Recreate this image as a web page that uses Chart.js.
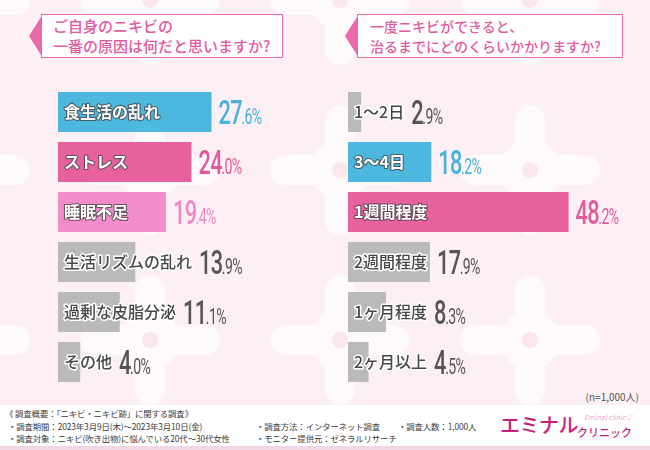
<!DOCTYPE html>
<html>
<head>
<meta charset="utf-8">
<script src="https://cdn.jsdelivr.net/npm/chart.js@4"></script>
<style>
  html, body { margin: 0; padding: 0; }
  body {
    width: 650px; height: 450px; position: relative; overflow: hidden;
    font-family: "Noto Sans CJK JP", "Noto Sans", sans-serif;
    background-color: #fcf0f4;
    background-image: url("data:image/svg+xml;utf8,<svg xmlns='http://www.w3.org/2000/svg' width='190' height='170'><g fill='white' opacity='0.6'><rect x='80' y='20' width='30' height='130' rx='15'/><rect x='25' y='70' width='140' height='30' rx='15'/><circle cx='95' cy='85' r='30'/></g><circle cx='95' cy='85' r='8' fill='%23fbe6ee'/></svg>");
    background-position: 55px 85px;
  }
  .qbox {
    position: absolute; top: 14px; height: 41px; box-sizing: content-box;
    background: #fff; border: 1.2px solid #e46aa9; color: #e25ba0;
    line-height: 20px; padding-top: 1px; font-weight: 500;
  }
  .arrow {
    position: absolute; top: 17px; width: 12px; height: 38px; background: #e86aa9;
    clip-path: polygon(100% 0, 0 50%, 100% 100%);
  }
  canvas { position: absolute; }
  .footer {
    position: absolute; left: 0; top: 405px; width: 650px; height: 41px;
    background: #fff; border-bottom: 4px solid #f3d6e5;
  }
  .ft { position: absolute; font-size: 8.4px; color: #3a3a3a; white-space: nowrap; line-height: 10px; letter-spacing: -0.1px; }
  .n { position: absolute; right: 11px; top: 389px; font-size: 10px; color: #555; }
</style>
</head>
<body>
<div class="arrow" style="left:29px"></div>
<div class="qbox" style="left:41px; width:229px; padding-left:11px; font-size:15px;">ご自身のニキビの<br>一番の原因は何だと思いますか?</div>
<div class="arrow" style="left:345px"></div>
<div class="qbox" style="left:357px; width:252px; padding-left:12px; font-size:14px;">一度ニキビができると、<br>治るまでにどのくらいかかりますか?</div>

<canvas id="leftChart" width="267" height="300" style="left:58px; top:87px;"></canvas>
<canvas id="rightChart" width="302" height="300" style="left:348px; top:87px;"></canvas>

<div class="n">(n=1,000人)</div>
<div class="footer"></div>
<div class="ft" style="left:5px; top:408px;">《 調査概要：「ニキビ・ニキビ跡」に関する調査》</div>
<div class="ft" style="left:8px; top:421px;">・調査期間：2023年3月9日(木)～2023年3月10日(金)</div>
<div class="ft" style="left:8px; top:433px;">・調査対象：ニキビ(吹き出物)に悩んでいる20代～30代女性</div>
<div class="ft" style="left:256px; top:421px;">・調査方法：インターネット調査</div>
<div class="ft" style="left:256px; top:433px;">・モニター提供元：ゼネラルリサーチ</div>
<div class="ft" style="left:398px; top:421px;">・調査人数：1,000人</div>
<div style="position:absolute; left:500px; top:410px; font-size:20px; color:#c81f78; font-weight:500; letter-spacing:-0.5px;">エミナル</div>
<div style="position:absolute; left:577px; top:424px; font-size:11px; color:#c81f78; font-weight:500;">クリニック</div>
<div style="position:absolute; left:584px; top:412px; font-size:7px; color:#f2a6cb; font-style:italic;">Eminal clinic♡</div>

<script>
// Q1: main cause of acne
const causeLabels = ['食生活の乱れ', 'ストレス', '睡眠不足', '生活リズムの乱れ', '過剰な皮脂分泌', 'その他'];
const causeValues = [27.6, 24.0, 19.4, 13.9, 11.1, 4.0];

// Q2: time until healed
const healLabels = ['1〜2日', '3〜4日', '1週間程度', '2週間程度', '1ヶ月程度', '2ヶ月以上'];
const healValues = [2.9, 18.2, 48.2, 17.9, 8.3, 4.5];

const BLUE = '#4db8de', PINK = '#e8619f', LPINK = '#f28ccb', GRAY = '#bababa';
const causeColors = [BLUE, PINK, LPINK, GRAY, GRAY, GRAY];
const healColors = [GRAY, BLUE, PINK, GRAY, GRAY, GRAY];
const textColor = { [BLUE]: '#48b2da', [PINK]: '#e3599b', [LPINK]: '#ef88c6', [GRAY]: '#555555' };

const barLabels = {
  id: 'barLabels',
  afterDatasetsDraw(chart) {
    const ctx = chart.ctx;
    const ds = chart.data.datasets[0];
    chart.getDatasetMeta(0).data.forEach((bar, i) => {
      const name = chart.data.labels[i];
      const color = ds.backgroundColor[i];
      const gray = color === GRAY;
      ctx.save();
      ctx.textBaseline = 'middle';
      ctx.lineJoin = 'round';
      ctx.font = (gray ? '500' : '700') + ' 16px "Noto Sans CJK JP"';
      const lx = bar.base + 6;
      ctx.lineWidth = gray ? 3 : 2.2;
      ctx.strokeStyle = gray ? '#ffffff' : 'rgba(70,70,70,0.8)';
      ctx.strokeText(name, lx, bar.y);
      ctx.fillStyle = gray ? '#474747' : '#ffffff';
      ctx.fillText(name, lx, bar.y);
      const labelEnd = lx + ctx.measureText(name).width;

      // value: big integer part, small decimals
      const parts = ds.data[i].toFixed(1).split('.');
      const vx = Math.max(bar.x, labelEnd) + 7;
      ctx.textBaseline = 'alphabetic';
      ctx.fillStyle = textColor[color];
      ctx.translate(vx, bar.y + 12);
      ctx.scale(0.64, 1);
      ctx.font = '500 34px Roboto';
      ctx.letterSpacing = '-1px';
      ctx.fillText(parts[0], 0, 0);
      const w = ctx.measureText(parts[0]).width;
      ctx.font = '400 22px Roboto';
      ctx.fillText('.' + parts[1] + '%', w - 1, 0);
      ctx.restore();
    });
  }
};

function makeChart(id, labels, values, colors, maxVal) {
  return new Chart(document.getElementById(id), {
    type: 'bar',
    data: {
      labels: labels,
      datasets: [{
        data: values,
        backgroundColor: colors,
        barPercentage: 0.8,
        categoryPercentage: 1.0
      }]
    },
    options: {
      indexAxis: 'y',
      responsive: false,
      animation: false,
      layout: { padding: 0 },
      plugins: { legend: { display: false }, tooltip: { enabled: false } },
      scales: {
        x: { display: false, min: 0, max: maxVal },
        y: { display: false }
      }
    },
    plugins: [barLabels]
  });
}

Promise.all([
  document.fonts.load('700 16px "Noto Sans CJK JP"'),
  document.fonts.load('500 34px Roboto'),
  document.fonts.load('400 22px Roboto')
]).then(() => {
  makeChart('leftChart', causeLabels, causeValues, causeColors, 48);
  makeChart('rightChart', healLabels, healValues, healColors, 66);
});
</script>
</body>
</html>
